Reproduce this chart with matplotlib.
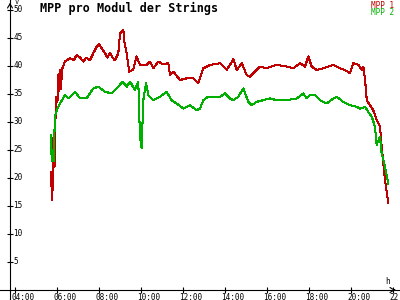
import matplotlib.pyplot as plt

# MPP 1 (red) - time in hours, value in V
hours_1 = [5.70, 5.74, 5.78, 5.80, 5.84, 5.88, 5.92, 5.97, 6.02, 6.07, 6.10, 6.14, 6.18, 6.25,
           6.38, 6.62, 6.80, 6.94, 7.10, 7.25, 7.40, 7.57, 7.73, 7.90, 8.01, 8.15, 8.29, 8.40,
           8.52, 8.65, 8.76, 8.92, 9.00, 9.16, 9.22, 9.29, 9.44, 9.63, 9.79, 9.95, 10.27, 10.43,
           10.59, 10.82, 11.05, 11.30, 11.38, 11.54, 11.86, 12.18, 12.49, 12.73, 12.97, 13.29,
           13.76, 14.08, 14.40, 14.56, 14.80, 15.03, 15.19, 15.43, 15.67, 15.98, 16.46, 16.94,
           17.25, 17.57, 17.81, 17.97, 18.13, 18.37, 18.68, 19.16, 19.48, 19.71, 19.95, 20.11,
           20.35, 20.51, 20.59, 20.67, 20.75, 20.90, 21.06, 21.22, 21.38, 21.46, 21.54, 21.62, 21.78]
mpp_1 = [21.0, 18.5, 16.0, 23.0, 28.0, 22.0, 30.0, 34.5, 33.5, 38.5, 35.5, 39.3, 35.8, 39.5,
         40.8, 41.4, 41.0, 42.0, 41.5, 40.8, 41.5, 41.0, 42.3, 43.5, 43.9, 43.0, 42.3, 41.5,
         42.3, 41.5, 41.0, 42.3, 45.8, 46.4, 44.0, 42.9, 39.0, 39.3, 41.7, 40.2, 40.2, 40.8,
         39.6, 40.8, 40.3, 40.5, 38.4, 39.0, 37.5, 37.8, 37.8, 36.9, 39.6, 40.2,
         40.5, 39.3, 41.2, 39.3, 40.5, 38.4, 38.1, 39.0, 39.9, 39.6, 40.2, 39.9,
         39.6, 40.5, 39.9, 41.7, 39.9, 39.3, 39.6, 40.2, 39.6, 39.3, 38.7, 40.5,
         40.2, 39.3, 39.9, 37.5, 33.9, 33.0, 32.1, 30.4, 29.2, 25.6, 22.6, 19.6, 15.5]

# MPP 2 (green)
hours_2 = [5.70, 5.72, 5.76, 5.80, 5.84, 5.90, 5.99, 6.14, 6.38, 6.54, 6.86, 7.10, 7.41, 7.73,
           7.97, 8.29, 8.60, 8.84, 9.13, 9.32, 9.48, 9.71, 9.87, 9.95, 10.03, 10.11, 10.24,
           10.35, 10.59, 10.90, 11.22, 11.46, 11.70, 12.01, 12.33, 12.65, 12.81, 12.97, 13.20,
           13.76, 14.00, 14.24, 14.40, 14.63, 14.87, 15.11, 15.27, 15.51, 15.82, 16.14, 16.46,
           16.94, 17.41, 17.73, 17.89, 18.05, 18.29, 18.52, 18.84, 19.16, 19.32, 19.63, 19.95,
           20.27, 20.43, 20.67, 20.82, 20.99, 21.14, 21.22, 21.38, 21.46, 21.62, 21.78]
mpp_2 = [27.7, 25.4, 23.0, 25.0, 23.0, 31.0, 32.1, 33.3, 34.8, 34.2, 35.4, 34.2, 34.2, 36.0,
         36.3, 35.4, 35.1, 36.0, 37.2, 36.3, 37.2, 35.7, 37.2, 27.4, 25.3, 33.9, 36.9,
         34.8, 33.9, 34.5, 35.4, 33.9, 33.3, 32.4, 33.0, 32.1, 32.4, 33.9, 34.5,
         34.5, 35.1, 34.2, 33.9, 34.5, 36.0, 33.6, 33.0, 33.6, 33.9, 34.2, 33.9,
         33.9, 34.2, 35.1, 34.2, 34.8, 34.8, 33.9, 33.3, 34.2, 34.5, 33.6, 33.0,
         32.7, 32.4, 32.7, 31.8, 30.9, 29.2, 25.9, 27.4, 24.4, 22.0, 19.0]

x_ticks = [4, 6, 8, 10, 12, 14, 16, 18, 20, 22]
x_labels = ['04:00', '06:00', '08:00', '10:00', '12:00', '14:00', '16:00', '18:00', '20:00', '22:00']
y_ticks = [5, 10, 15, 20, 25, 30, 35, 40, 45, 50]

RED = '#c00000'
GREEN = '#00b000'
MONO = 'DejaVu Sans Mono'

fig = plt.figure(figsize=(4, 3), dpi=100)
ax = fig.add_axes([0, 0, 1, 1])

# pixel scale of the original: 21 px per hour, 5.6 px per volt
x0 = 3.762
ax.set_xlim(x0 - 10 / 21, x0 + 390 / 21)
ax.set_ylim(-10 / 5.6, 290 / 5.6)

ax.plot(hours_1, mpp_1, color=RED, lw=0.75, antialiased=False)
ax.plot(hours_2, mpp_2, color=GREEN, lw=0.75, antialiased=False)

for s in ['top', 'right']:
    ax.spines[s].set_visible(False)
ax.spines['left'].set_position(('data', x0))
ax.spines['bottom'].set_position(('data', 0))
ax.spines['left'].set_linewidth(0.8)
ax.spines['bottom'].set_linewidth(0.8)
ax.set_xticks(x_ticks)
ax.set_yticks(y_ticks)
ax.tick_params(direction='inout', length=5, width=0.8, labelbottom=False, labelleft=False)

for t, lab in zip(x_ticks, x_labels):
    ax.annotate(lab, (t, 0), xytext=(-2.5, -1.8), textcoords='offset points',
                ha='left', va='top', fontsize=5.5, family=MONO, annotation_clip=False)
for v in y_ticks:
    ax.annotate(str(v), (x0, v), xytext=(2.5, 0), textcoords='offset points',
                ha='left', va='center', fontsize=5.5, family=MONO)

# axis arrows
x_end = x0 + 388 / 21
ax.annotate('', xy=(x_end, 0), xytext=(x_end - 0.3, 0),
            arrowprops=dict(arrowstyle='->, head_length=0.3, head_width=0.18', lw=0.8))
ax.annotate('', xy=(x0, 290 / 5.6), xytext=(x0, 290 / 5.6 - 1.5),
            arrowprops=dict(arrowstyle='->, head_length=0.3, head_width=0.18', lw=0.8))
ax.annotate('V', (x0, 290 / 5.6), xytext=(3.5, -1.5), textcoords='offset points',
            ha='left', va='center', fontsize=5, family=MONO)
ax.annotate('h', (x_end, 0), xytext=(-9, 6), textcoords='offset points',
            ha='left', va='center', fontsize=5.5, family=MONO)

fig.text(40 / 400, 1 - 8 / 300, 'MPP pro Modul der Strings', family=MONO,
         fontweight='bold', fontsize=8.5, va='center', ha='left')
fig.text(394 / 400, 1 - 5 / 300, 'MPP 1', color=RED, family=MONO, fontsize=5.5,
         va='center', ha='right')
fig.text(394 / 400, 1 - 12.5 / 300, 'MPP 2', color=GREEN, family=MONO, fontsize=5.5,
         va='center', ha='right')

fig.savefig('out.png', dpi=100, facecolor='white')
